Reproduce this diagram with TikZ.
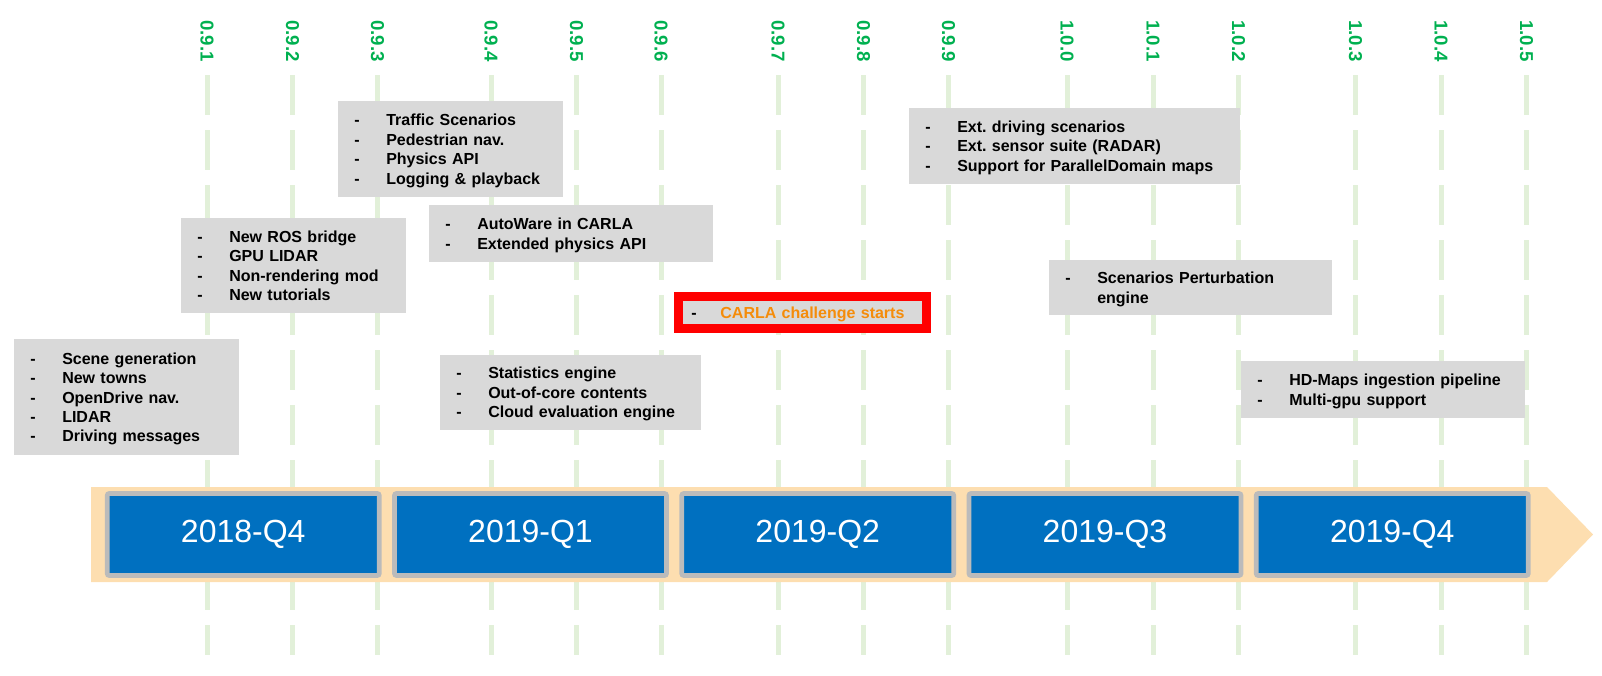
\documentclass[tikz,border=0pt]{standalone}
\usepackage{fontspec}
\setmainfont{Liberation Sans}
\usepackage{array}

\newlength{\pxu}
\setlength{\pxu}{0.75pt}

\definecolor{verGreen}{HTML}{00B050}
\definecolor{verLine}{HTML}{E2F0D9}
\definecolor{bandPeach}{RGB}{253,222,176}
\definecolor{qBlue}{HTML}{0070C0}
\definecolor{qBorder}{HTML}{BBBBBB}
\definecolor{noteGray}{HTML}{D9D9D9}
\definecolor{challRed}{HTML}{FF0000}
\definecolor{challOrange}{RGB}{245,140,10}

% dash + feature list used inside the grey boxes
\newcommand{\featlist}[2][32]{{\fontsize{12}{9.93}\selectfont\setlength{\extrarowheight}{4.62pt}%
  \begin{tabular}{@{}p{#1\pxu}@{}l@{}}#2\end{tabular}}}

\tikzset{
  verline/.style={draw=verLine, line width=5\pxu, dash pattern=on 40\pxu off 15\pxu},
  verlabel/.style={text=verGreen, font=\bfseries\fontsize{14}{16}\selectfont,
    rotate=-90, anchor=west, inner sep=0pt},
  quarter/.style={fill=qBlue, draw=qBorder, line width=4.7\pxu, rounded corners=2\pxu,
    minimum width=272\pxu, minimum height=82\pxu, text=white,
    font=\fontsize{24}{28}\selectfont},
  note/.style 2 args={fill=noteGray, anchor=north west, inner xsep=16\pxu, inner ysep=0pt,
    align=left, text width=#1\pxu, minimum height=#2\pxu,
    font=\bfseries\fontsize{12}{14.55}\selectfont},
}

\begin{document}
\begin{tikzpicture}[x=0.75pt, y=-0.75pt]
  \useasboundingbox (0,0) rectangle (1602,675);

  % version markers
  \foreach \vx/\vname [count=\i] in {207/0.9.1, 292.5/0.9.2, 377.5/0.9.3, 491/0.9.4,
      576.5/0.9.5, 661/0.9.6, 778/0.9.7, 863.5/0.9.8, 948.5/0.9.9, 1067/1.0.0,
      1153/1.0.1, 1238.5/1.0.2, 1355.5/1.0.3, 1441/1.0.4, 1526.5/1.0.5} {
    \draw[verline] (\vx,75) -- (\vx,655);
    \node[verlabel] (ver\i) at (\vx,20) {\vname};
  }

  % timeline band
  \fill[bandPeach] (91,487) -- (1547,487) -- (1593,534.5) -- (1547,582) -- (91,582) -- cycle;

  % quarters
  \foreach \q [count=\i] in {2018-Q4, 2019-Q1, 2019-Q2, 2019-Q3, 2019-Q4}
    \node[quarter] (q\i) at ({243.25+287.25*(\i-1)},534.5) {\q};

  % features per quarter
  \node[note={193}{116}] (featA) at (14,339) {\featlist{%
    - & Scene generation\\ - & New towns\\ - & OpenDrive nav.\\ - & LIDAR\\ - & Driving messages}};
  \node[note={193}{95}] (featB) at (181,218) {\featlist{%
    - & New ROS bridge\\ - & GPU LIDAR\\ - & Non-rendering mod\\ - & New tutorials}};
  \node[note={193}{96}] (featC) at (338,101) {\featlist{%
    - & Traffic Scenarios\\ - & Pedestrian nav.\\ - & Physics API\\ - & Logging \& playback}};
  \node[note={252}{57}] (featD) at (429,205) {\featlist{%
    - & AutoWare in CARLA\\ - & Extended physics API}};
  \node[note={229}{75}] (featE) at (440,354.5) {\featlist{%
    - & Statistics engine\\ - & Out-of-core contents\\ - & Cloud evaluation engine}};
  \node[note={299}{76}] (featG) at (909,108) {\featlist{%
    - & Ext.\ driving scenarios\\ - & Ext.\ sensor suite (RADAR)\\ - & Support for ParallelDomain maps}};
  \node[note={251}{55}] (featH) at (1049,260) {\featlist{%
    - & Scenarios Perturbation\\ & engine}};
  \node[note={252}{57}] (featI) at (1241,361) {\featlist{%
    - & HD-Maps ingestion pipeline\\ - & Multi-gpu support}};

  % challenge milestone
  \node[fill=noteGray, draw=challRed, line width=8.5\pxu, inner xsep=13\pxu, inner ysep=0pt,
    minimum width=248\pxu, minimum height=32\pxu, text width=222\pxu, align=left,
    font=\bfseries\fontsize{12}{14.55}\selectfont] (chall) at (802.4,312.3)
    {\featlist[29]{- & \textcolor{challOrange}{CARLA challenge starts}}};
\end{tikzpicture}
\end{document}
